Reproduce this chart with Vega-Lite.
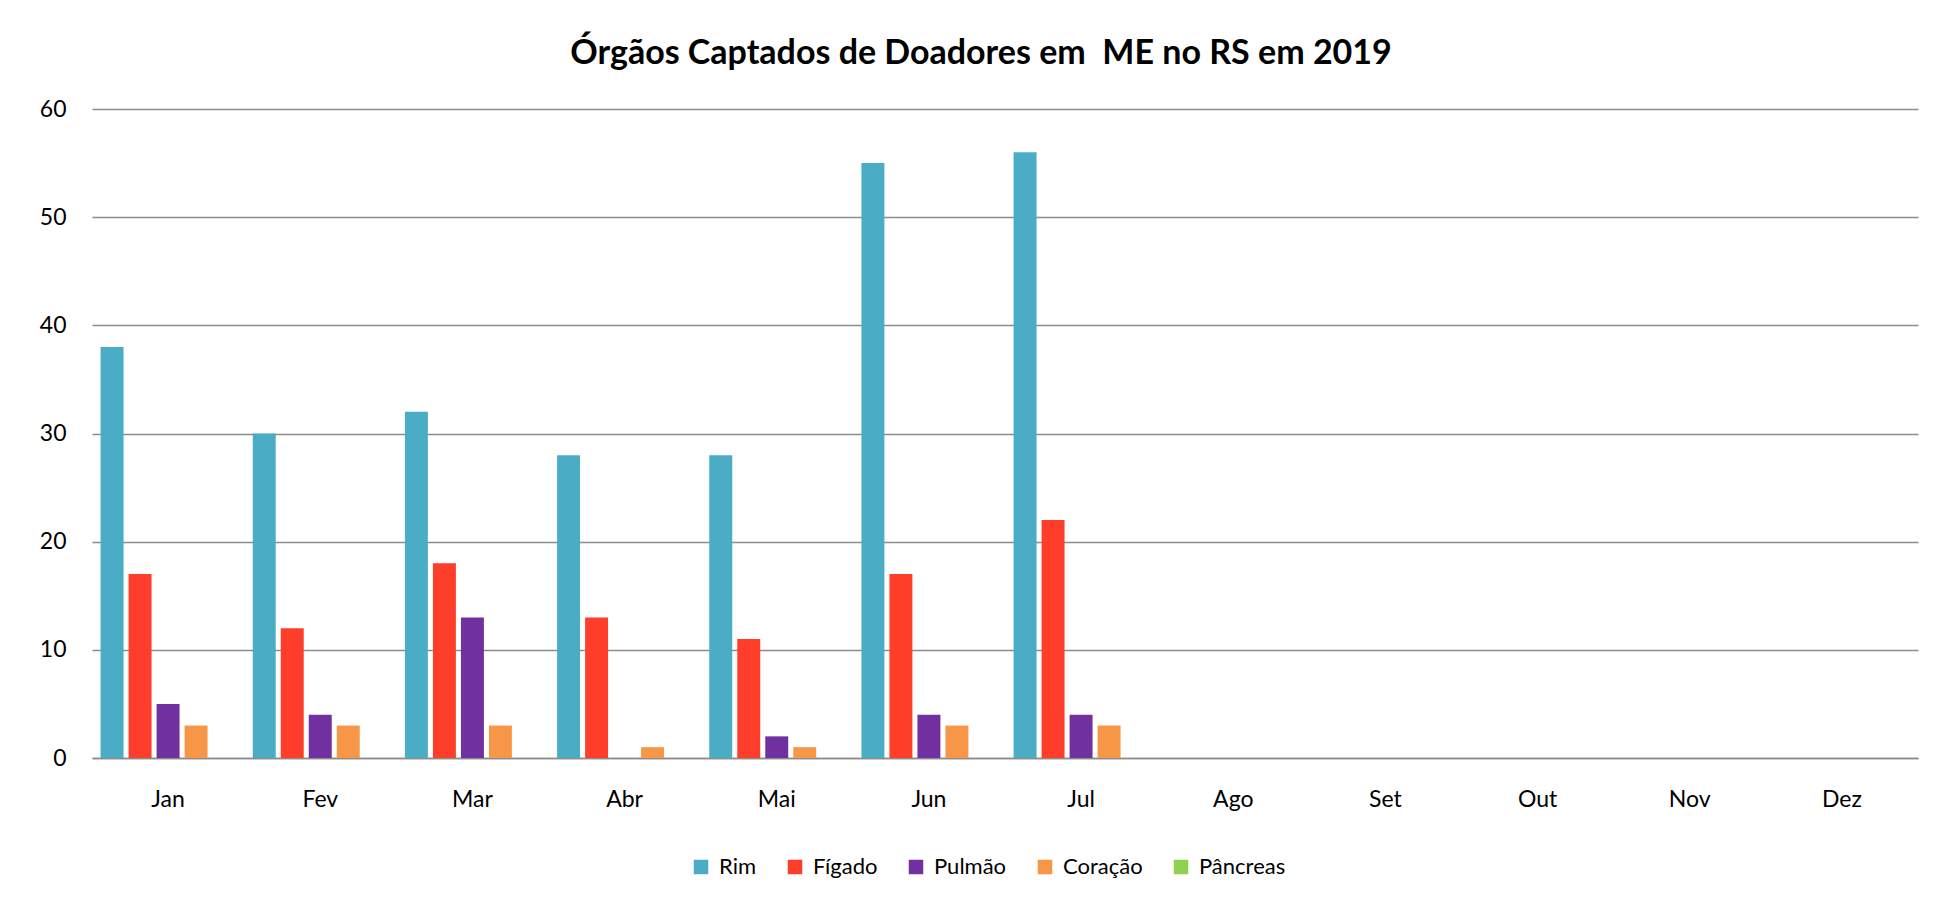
{
  "$schema": "https://vega.github.io/schema/vega-lite/v6.json",
  "autosize": {"type": "none"},
  "width": 1826,
  "height": 649,
  "padding": {"left": 92, "top": 109, "right": 17, "bottom": 147},
  "background": "white",
  "title": {
    "text": "Órgãos Captados de Doadores em \u00a0ME no RS em 2019",
    "font": "Lato",
    "fontSize": 34,
    "fontWeight": "bold",
    "color": "#000000",
    "anchor": "middle",
    "offset": 27,
    "dx": -24
  },
  "config": {
    "view": {"stroke": null},
    "font": "Lato"
  },
  "data": {
    "values": [
      {"mes": "Jan", "orgao": "Rim", "qtd": 38},
      {"mes": "Jan", "orgao": "Fígado", "qtd": 17},
      {"mes": "Jan", "orgao": "Pulmão", "qtd": 5},
      {"mes": "Jan", "orgao": "Coração", "qtd": 3},
      {"mes": "Jan", "orgao": "Pâncreas", "qtd": 0},
      {"mes": "Fev", "orgao": "Rim", "qtd": 30},
      {"mes": "Fev", "orgao": "Fígado", "qtd": 12},
      {"mes": "Fev", "orgao": "Pulmão", "qtd": 4},
      {"mes": "Fev", "orgao": "Coração", "qtd": 3},
      {"mes": "Fev", "orgao": "Pâncreas", "qtd": 0},
      {"mes": "Mar", "orgao": "Rim", "qtd": 32},
      {"mes": "Mar", "orgao": "Fígado", "qtd": 18},
      {"mes": "Mar", "orgao": "Pulmão", "qtd": 13},
      {"mes": "Mar", "orgao": "Coração", "qtd": 3},
      {"mes": "Mar", "orgao": "Pâncreas", "qtd": 0},
      {"mes": "Abr", "orgao": "Rim", "qtd": 28},
      {"mes": "Abr", "orgao": "Fígado", "qtd": 13},
      {"mes": "Abr", "orgao": "Pulmão", "qtd": 0},
      {"mes": "Abr", "orgao": "Coração", "qtd": 1},
      {"mes": "Abr", "orgao": "Pâncreas", "qtd": 0},
      {"mes": "Mai", "orgao": "Rim", "qtd": 28},
      {"mes": "Mai", "orgao": "Fígado", "qtd": 11},
      {"mes": "Mai", "orgao": "Pulmão", "qtd": 2},
      {"mes": "Mai", "orgao": "Coração", "qtd": 1},
      {"mes": "Mai", "orgao": "Pâncreas", "qtd": 0},
      {"mes": "Jun", "orgao": "Rim", "qtd": 55},
      {"mes": "Jun", "orgao": "Fígado", "qtd": 17},
      {"mes": "Jun", "orgao": "Pulmão", "qtd": 4},
      {"mes": "Jun", "orgao": "Coração", "qtd": 3},
      {"mes": "Jun", "orgao": "Pâncreas", "qtd": 0},
      {"mes": "Jul", "orgao": "Rim", "qtd": 56},
      {"mes": "Jul", "orgao": "Fígado", "qtd": 22},
      {"mes": "Jul", "orgao": "Pulmão", "qtd": 4},
      {"mes": "Jul", "orgao": "Coração", "qtd": 3},
      {"mes": "Jul", "orgao": "Pâncreas", "qtd": 0}
    ]
  },
  "mark": {"type": "bar"},
  "encoding": {
    "x": {
      "field": "mes",
      "type": "nominal",
      "scale": {
        "domain": ["Jan", "Fev", "Mar", "Abr", "Mai", "Jun", "Jul", "Ago", "Set", "Out", "Nov", "Dez"],
        "paddingInner": 0.113,
        "paddingOuter": 0.0565
      },
      "axis": {
        "title": null,
        "labelAngle": 0,
        "labelFont": "Lato",
        "labelFontSize": 23,
        "labelColor": "#000000",
        "labelPadding": 30,
        "ticks": false,
        "domainColor": "#8c8c8c",
        "domainWidth": 1.5,
        "grid": false
      }
    },
    "xOffset": {
      "field": "orgao",
      "type": "nominal",
      "sort": ["Rim", "Fígado", "Pulmão", "Coração", "Pâncreas"],
      "scale": {"paddingInner": 0.18, "paddingOuter": 0}
    },
    "y": {
      "field": "qtd",
      "type": "quantitative",
      "scale": {"domain": [0, 60], "nice": false},
      "axis": {
        "title": null,
        "values": [0, 10, 20, 30, 40, 50, 60],
        "labelFont": "Lato",
        "labelFontSize": 23,
        "labelColor": "#000000",
        "labelPadding": 26,
        "ticks": false,
        "domain": false,
        "gridColor": "#8c8c8c",
        "gridWidth": 1.5,
        "gridOpacity": 1
      }
    },
    "color": {
      "field": "orgao",
      "type": "nominal",
      "scale": {
        "domain": ["Rim", "Fígado", "Pulmão", "Coração", "Pâncreas"],
        "range": ["#4BACC6", "#FF3D2B", "#7030A0", "#F79646", "#92D050"]
      },
      "legend": {
        "title": null,
        "orient": "none",
        "direction": "horizontal",
        "legendX": 598,
        "legendY": 747,
        "symbolType": "square",
        "symbolSize": 210,
        "symbolStrokeWidth": 0,
        "labelFont": "Lato",
        "labelFontSize": 22,
        "labelColor": "#000000",
        "labelOffset": 7,
        "columnPadding": 27,
        "padding": 0
      }
    }
  }
}
